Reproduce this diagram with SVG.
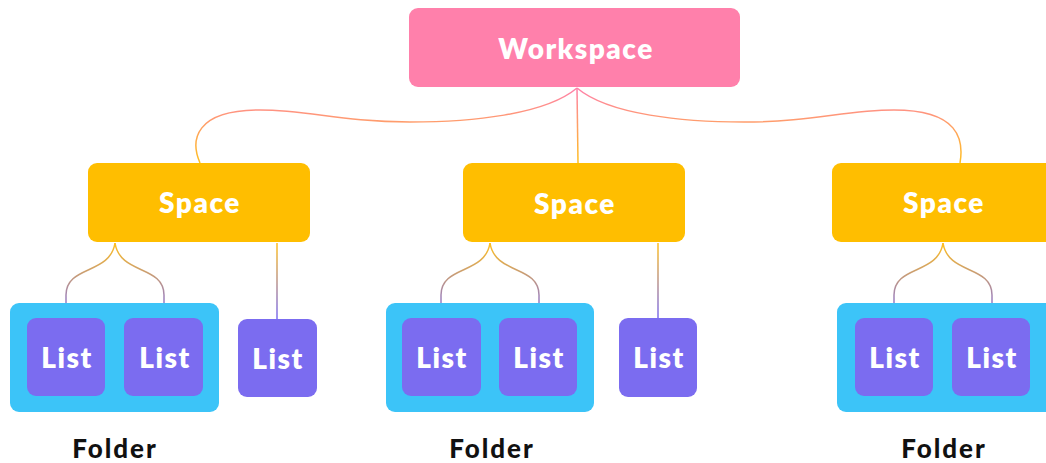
<svg xmlns="http://www.w3.org/2000/svg" width="1046" height="463" viewBox="0 0 1046 463">
  <defs>
    <linearGradient id="gWs" gradientUnits="userSpaceOnUse" x1="0" y1="88" x2="0" y2="163">
      <stop offset="0" stop-color="#ff80ab"/>
      <stop offset="1" stop-color="#ffbf1f"/>
    </linearGradient>
    <linearGradient id="gSp" gradientUnits="userSpaceOnUse" x1="0" y1="243" x2="0" y2="318">
      <stop offset="0" stop-color="#ffbf1f"/>
      <stop offset="1" stop-color="#7b6cf0"/>
    </linearGradient>
    <style>
      .ws { fill: #ff80ab; }
      .sp { fill: #ffbe00; }
      .fd { fill: #3cc4f8; }
      .ls { fill: #7b6cf0; }
      .lbl { font-family: Lato, "Open Sans", sans-serif; font-weight: 800; font-size: 28px; letter-spacing: 1.5px; fill: #ffffff; text-anchor: middle; dominant-baseline: central; }
      .fl { font-family: Lato, "Open Sans", sans-serif; font-weight: 900; fill: #111111; font-size: 26px; letter-spacing: 2px; text-anchor: middle; }
      .c1 { fill: none; stroke: url(#gWs); stroke-width: 1.5; }
      .c2 { fill: none; stroke: url(#gSp); stroke-width: 1.5; }
    </style>
  </defs>
  <rect width="1046" height="463" fill="#ffffff"/>

  <!-- connectors -->
  <g id="connectors">
    <path class="c1" d="M577,88 L578,163"/>
    <path class="c1" d="M577,88 C545,115 470,122 410,122 C340,122 310,110 260,110 C195,110 190,140 200,163"/>
    <path class="c1" d="M577,88 C609,115 684,122 744,122 C814,122 844,110 894,110 C959,110 964,140 960,163"/>
    <!-- left space -->
    <path class="c2" d="M115,243 C110,275 66,265 66,295 L66,318"/>
    <path class="c2" d="M115,243 C120,275 164,265 164,295 L164,318"/>
    <path class="c2" d="M277,243 L277,319"/>
    <!-- middle space -->
    <path class="c2" d="M490,243 C485,275 441,265 441,295 L441,318"/>
    <path class="c2" d="M490,243 C495,275 539,265 539,295 L539,318"/>
    <path class="c2" d="M658,243 L658,318"/>
    <!-- right space -->
    <path class="c2" d="M943,243 C938,275 894,265 894,295 L894,318"/>
    <path class="c2" d="M943,243 C948,275 992,265 992,295 L992,318"/>
  </g>

  <g id="workspace">
    <rect class="ws" x="409" y="8" width="331" height="79" rx="9"/>
    <text class="lbl" x="576" y="48">Workspace</text>
  </g>

  <g id="space-left">
    <rect class="sp" x="88" y="163" width="222" height="79" rx="9"/>
    <text class="lbl" x="200" y="202">Space</text>
  </g>
  <g id="space-middle">
    <rect class="sp" x="463" y="163" width="222" height="79" rx="9"/>
    <text class="lbl" x="575" y="203">Space</text>
  </g>
  <g id="space-right">
    <rect class="sp" x="832" y="163" width="222" height="79" rx="9"/>
    <text class="lbl" x="944" y="202">Space</text>
  </g>

  <g id="folder-left">
    <rect class="fd" x="10" y="303" width="209" height="109" rx="9"/>
    <text class="fl" x="115" y="458">Folder</text>
  </g>
  <g id="folder-middle">
    <rect class="fd" x="386" y="303" width="208" height="109" rx="9"/>
    <text class="fl" x="492" y="458">Folder</text>
  </g>
  <g id="folder-right">
    <rect class="fd" x="837" y="303" width="220" height="109" rx="9"/>
    <text class="fl" x="944" y="458">Folder</text>
  </g>

  <g id="list-l1">
    <rect class="ls" x="27" y="318" width="78" height="78" rx="9"/>
    <text class="lbl" x="67" y="357">List</text>
  </g>
  <g id="list-l2">
    <rect class="ls" x="124" y="318" width="79" height="78" rx="9"/>
    <text class="lbl" x="165" y="357">List</text>
  </g>
  <g id="list-l3">
    <rect class="ls" x="238" y="319" width="79" height="78" rx="9"/>
    <text class="lbl" x="278" y="358">List</text>
  </g>
  <g id="list-m1">
    <rect class="ls" x="402" y="318" width="79" height="78" rx="9"/>
    <text class="lbl" x="442" y="357">List</text>
  </g>
  <g id="list-m2">
    <rect class="ls" x="499" y="318" width="78" height="78" rx="9"/>
    <text class="lbl" x="539" y="357">List</text>
  </g>
  <g id="list-m3">
    <rect class="ls" x="619" y="318" width="78" height="79" rx="9"/>
    <text class="lbl" x="659" y="357">List</text>
  </g>
  <g id="list-r1">
    <rect class="ls" x="855" y="318" width="78" height="78" rx="9"/>
    <text class="lbl" x="895" y="357">List</text>
  </g>
  <g id="list-r2">
    <rect class="ls" x="952" y="318" width="78" height="78" rx="9"/>
    <text class="lbl" x="992" y="357">List</text>
  </g>
</svg>
